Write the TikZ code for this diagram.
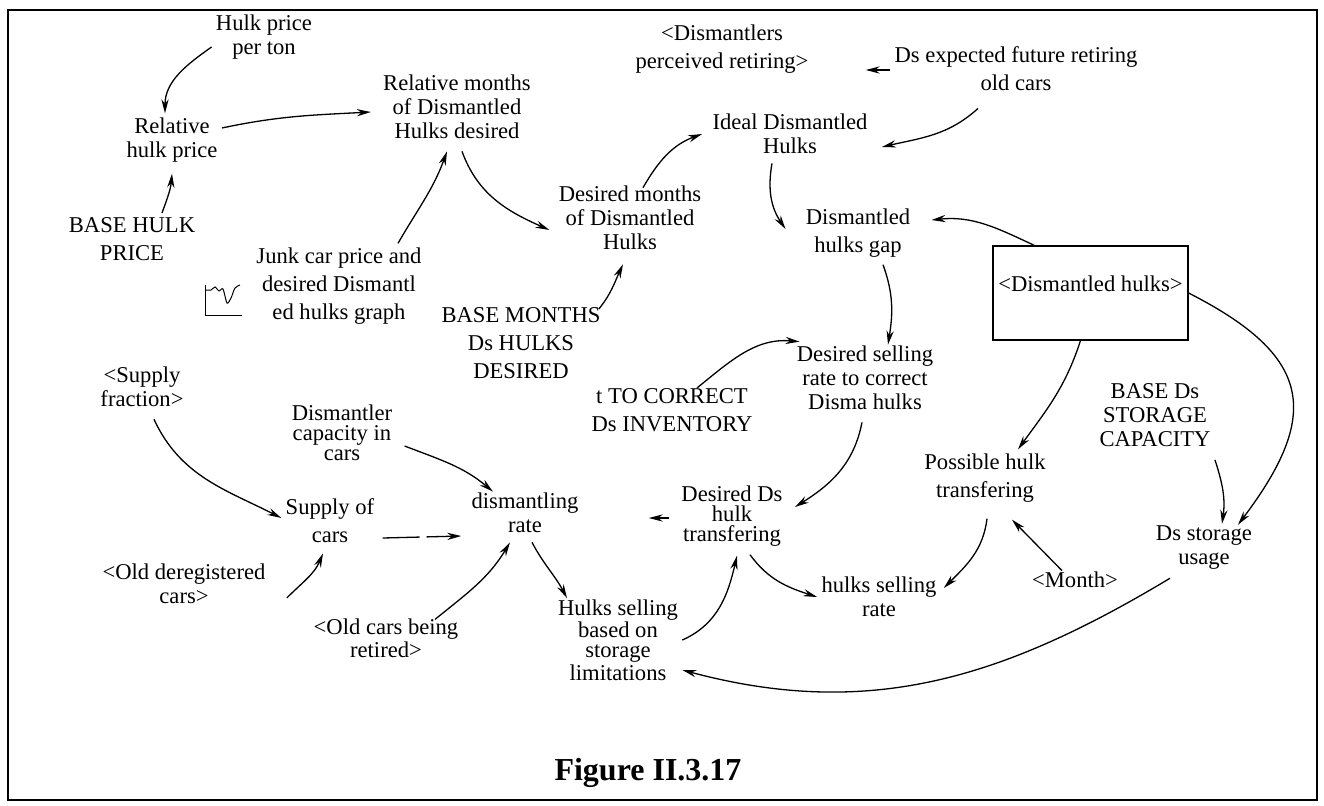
\documentclass[tikz,border=0pt]{standalone}
\usepackage{fontspec}
\setmainfont{Liberation Serif}
\usepackage{tikz}
\usetikzlibrary{arrows.meta}
\tikzset{
  var/.style   = {align=center, inner sep=2pt, font=\fontsize{11.3}{12}\selectfont},
  varT/.style  = {var, font=\fontsize{11.3}{10}\selectfont},
  varL/.style  = {var, font=\fontsize{11.3}{14}\selectfont},
  stock/.style = {draw, line width=0.6pt, minimum width=97.5pt, minimum height=47pt,
                  text height=8pt, text depth=10pt, inner sep=0pt,
                  font=\fontsize{11.3}{12}\selectfont},
  arr/.style   = {-{Stealth[length=7pt,width=3.6pt]}, line width=0.65pt},
}

\begin{document}
\begin{tikzpicture}[x=0.5pt,y=0.5pt]
  \useasboundingbox (0,0) rectangle (1324,-805);
  \draw[line width=1pt] (8,-10) rectangle (1317,-800);

  % variables
  \node[var]  (hpt) at (264,-37)  {Hulk price\\per ton};
  \node[var]  (rhp) at (172,-140) {Relative\\hulk price};
  \node[varL] (bhp) at (132,-239) {BASE HULK\\PRICE};
  \node[var]  (rmd) at (457,-107) {Relative months\\of Dismantled\\Hulks desired};
  \node[varL] (dmp) at (722,-49)  {<Dismantlers\\perceived retiring>};
  \node[varL] (def) at (1016,-69) {Ds expected future retiring\\old cars};
  \node[var]  (idh) at (790,-134) {Ideal Dismantled\\Hulks};
  \node[var]  (dmd) at (630,-218) {Desired months\\of Dismantled\\Hulks};
  \node[varL] (dhg) at (858,-233) {Dismantled\\hulks gap};
  \node[stock] (dhk) at (1090.5,-293) {<Dismantled hulks>};
  \node[varL] (jcp) at (339,-286) {Junk car price and\\desired Dismantl\\ed hulks graph};
  \node[varL] (bmd) at (521,-343) {BASE MONTHS\\Ds HULKS\\DESIRED};
  \node[varL] (tcd) at (672,-410) {t TO CORRECT\\Ds INVENTORY};
  \node[var]  (dsr) at (865,-378) {Desired selling\\rate to correct\\Disma hulks};
  \node[var]  (sf)  at (142,-387) {<Supply\\fraction>};
  \node[varT] (dcc) at (342,-433) {Dismantler\\capacity in\\cars};
  \node[varL] (soc) at (330,-521) {Supply of\\cars};
  \node[var]  (dmr) at (525,-513) {dismantling\\rate};
  \node[varT] (ddt) at (732,-516) {Desired Ds\\hulk\\transfering};
  \node[varL] (phk) at (985,-478) {Possible hulk\\transfering};
  \node[var]  (bsc) at (1155,-415) {BASE Ds\\STORAGE\\CAPACITY};
  \node[var]  (dsu) at (1204,-548) {Ds storage\\usage};
  \node[var]  (odc) at (184,-584) {<Old deregistered\\cars>};
  \node[varT] (ocr) at (386,-638) {<Old cars being\\retired>};
  \node[varT] (hsb) at (618,-640) {Hulks selling\\based on\\storage\\limitations};
  \node[var]  (hsr) at (879,-597) {hulks selling\\rate};
  \node[var]  (mon) at (1075,-580) {<Month>};
  \node[font=\fontsize{16}{18}\selectfont\bfseries] (fig) at (648,-773) {Figure II.3.17};

  % lookup icon
  \draw[line width=0.5pt] (205,-285) -- (205,-315) -- (242,-315);
  \draw[line width=0.5pt] plot[smooth] coordinates {(205,-290) (211,-290) (215,-287) (219,-291)
    (223,-289) (227,-303) (231,-298) (235,-288) (240,-285)};

  % links
  \draw[arr] ([yshift=-5pt]hpt.west) to[out=215,in=90] ([xshift=-3.5pt]rhp.north);
  \draw[arr] ([xshift=15pt]bhp.north) to[out=70,in=265] ([yshift=-3.5pt]rhp.south);
  \draw[arr] ([yshift=6pt]rhp.east) to[out=12,in=183] ([xshift=-4pt,yshift=-2.5pt]rmd.west);
  \draw[arr] ([xshift=29.5pt]jcp.north) to[out=60,in=250] ([xshift=-5pt,yshift=-4pt]rmd.south);
  \draw[arr] ([xshift=2.5pt,yshift=-4pt]rmd.south) to[out=-70,in=156] ([xshift=-2.5pt,yshift=-6pt]dmd.west);
  \draw[arr] ([xshift=6.5pt,yshift=-3pt]dmd.north) to[out=60,in=200] ([xshift=-3pt]idh.west);
  \draw[arr] ([xshift=-19pt,yshift=-6.5pt]def.south) to[out=222,in=13] ([xshift=5pt,yshift=-6.5pt]idh.east);
  \draw[arr,shorten >=26.5pt] ([yshift=-0.5pt]def.west) -- ([yshift=-10.5pt]dmp.east);
  \draw[arr] ([xshift=-9pt,yshift=-2.5pt]idh.south) to[out=-100,in=124] ([xshift=-8pt,yshift=2pt]dhg.west);
  \draw[arr] ([xshift=21pt]dhk.north west) to[out=155,in=6] ([xshift=8.5pt,yshift=6.5pt]dhg.east);
  \draw[arr] ([xshift=12.5pt,yshift=-1.5pt]dhg.south) to[out=-70,in=81] ([xshift=11.5pt,yshift=-1.5pt]dsr.north);
  \draw[arr] ([xshift=-5pt]dhk.south) to[out=-108,in=54] ([xshift=16.5pt]phk.north);
  \draw[arr] (dhk.east) to[out=-27,in=53,looseness=1.5] ([xshift=17pt,yshift=-1.5pt]dsu.north);
  \draw[arr] ([xshift=30pt,yshift=-4.5pt]bsc.south) to[out=-72,in=82] ([xshift=9pt,yshift=-1pt]dsu.north);
  \draw[arr] ([xshift=-17pt,yshift=-2pt]dsu.south) to[out=211,in=-15] ([yshift=-15pt]hsb.east);
  \draw[arr] ([xshift=-6.5pt,yshift=-1.5pt]mon.north) -- ([xshift=13.5pt,yshift=-6.5pt]phk.south);
  \draw[arr] ([xshift=1pt,yshift=-6pt]phk.south) to[out=-97,in=45] ([xshift=1.5pt,yshift=4.5pt]hsr.east);
  \draw[arr] ([xshift=9pt,yshift=-2pt]ddt.south) to[out=-54,in=162] (hsr.west);
  \draw[arr] ([xshift=-1.5pt,yshift=-4pt]dsr.south) to[out=-101,in=32] ([xshift=4pt,yshift=4.5pt]ddt.east);
  \draw[arr] ([xshift=12.5pt,yshift=-2pt]tcd.north) to[out=39,in=175] ([xshift=3.5pt]dsr.north west);
  \draw[arr] (hsb.east) to[out=24,in=257] ([xshift=2.5pt,yshift=-2.5pt]ddt.south);
  \draw[arr,shorten <=4pt,shorten >=33pt] ([yshift=-1pt]ddt.west) -- ([yshift=-2.5pt]dmr.east);
  \draw[arr] ([xshift=6pt,yshift=-4pt]sf.south) to[out=-65,in=153] ([yshift=1.5pt]soc.west);
  \draw[arr] ([xshift=8.5pt,yshift=-7pt]odc.east) to[out=45,in=247] ([xshift=-3.5pt,yshift=-3pt]soc.south);
  \draw[arr,dash pattern=on 18.5pt off 3.5pt] ([xshift=2pt,yshift=-8.5pt]soc.east) -- ([xshift=-3pt,yshift=-11.5pt]dmr.west);
  \draw[arr] ([xshift=4pt,yshift=-6.5pt]dcc.east) to[out=-21,in=140] ([xshift=-16pt,yshift=-1.5pt]dmr.north);
  \draw[arr] ([xshift=24.5pt,yshift=-2.5pt]ocr.north) to[out=39,in=239] ([xshift=-7.5pt,yshift=-2.5pt]dmr.south);
  \draw[arr] ([xshift=3.5pt,yshift=-2.5pt]dmr.south) to[out=-62,in=118] ([xshift=-25.5pt,yshift=-1.5pt]hsb.north);
  \draw[arr] ([xshift=-3pt,yshift=-3pt]bmd.north east) to[out=51,in=245] ([xshift=-3.5pt,yshift=-5pt]dmd.south);
\end{tikzpicture}
\end{document}
